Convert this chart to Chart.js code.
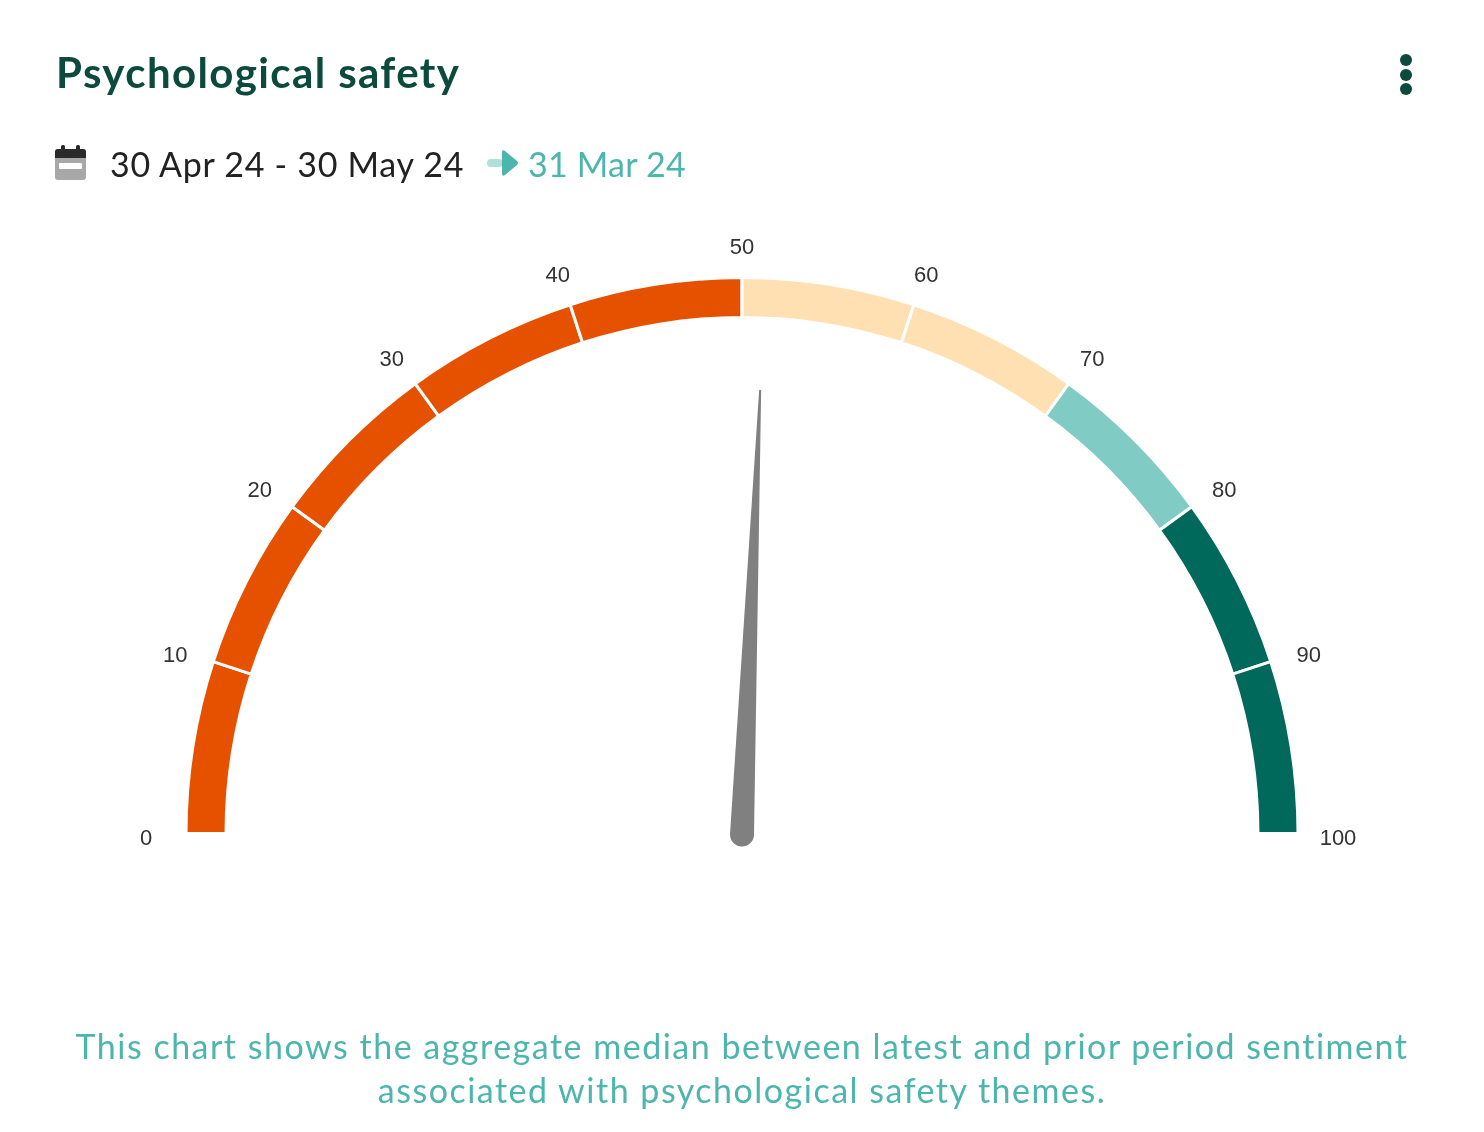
<!DOCTYPE html>
<html>
<head>
<meta charset="utf-8">
<script src="https://cdn.jsdelivr.net/npm/chart.js@4.4.1/dist/chart.umd.min.js"></script>
<style>
  html, body { margin: 0; padding: 0; background: #fff; }
  body { width: 1484px; height: 1132px; position: relative; overflow: hidden; font-family: Lato, "Open Sans", sans-serif; }
  #wrap { position: absolute; left: 0; top: 0; width: 1484px; height: 1132px; }
  .title { position: absolute; left: 56px; top: 47px; font-size: 42px; font-weight: 700; color: #0b4a3c; letter-spacing: 1.4px; }
  .dots { position: absolute; left: 1400px; top: 54px; }
  .dots span { display: block; width: 12px; height: 12px; border-radius: 6px; background: #0b4a3c; margin-bottom: 2.5px; }
  .dates { position: absolute; left: 54px; top: 140px; height: 46px; display: flex; align-items: center; font-size: 34px; color: #222; letter-spacing: 0.7px; }
  .dates .prior { color: #4db6ac; letter-spacing: 0.2px; }
  .note { position: absolute; left: 0; width: 1484px; top: 1024px; text-align: center; font-size: 34px; line-height: 44px; color: #4db6ac; letter-spacing: 1.5px; }
</style>
</head>
<body>
<div id="wrap"><canvas id="chart"></canvas></div>
<div class="title">Psychological safety</div>
<div class="dots"><span></span><span></span><span></span></div>
<div class="dates">
  <svg width="33" height="36" viewBox="0 0 33 36" style="margin-right:23px">
    <rect x="1" y="4" width="31" height="31" rx="3" fill="#a8a8a8"/>
    <path d="M1 7 a3 3 0 0 1 3 -3 h25 a3 3 0 0 1 3 3 v6 h-31 z" fill="#2a2a2a"/>
    <rect x="7" y="0" width="4" height="8" rx="1.5" fill="#2a2a2a"/>
    <rect x="22" y="0" width="4" height="8" rx="1.5" fill="#2a2a2a"/>
    <rect x="5" y="18" width="23" height="6" rx="1" fill="#fff"/>
  </svg>
  <span>30 Apr 24 - 30 May 24</span>
  <svg width="32" height="28" viewBox="0 0 32 28" style="margin:0 9px 0 23px">
    <rect x="0" y="10" width="16" height="8" rx="4" fill="#b2dfdb"/>
    <path d="M15 3 q0 -3 3 -1 l12 10 q2 2 0 4 l-12 10 q-3 2 -3 -1 z" fill="#4db6ac"/>
  </svg>
  <span class="prior">31 Mar 24</span>
</div>
<div class="note">This chart shows the aggregate median between latest and prior period sentiment<br>associated with psychological safety themes.</div>
<script>
"use strict";

const segmentValues = [10, 10, 10, 10, 10, 10, 10, 10, 10, 10];
const segmentColors = ["#e65100", "#e65100", "#e65100", "#e65100", "#e65100",
                       "#ffe0b2", "#ffe0b2", "#80cbc4", "#00695c", "#00695c"];
const tickLabels = ["0", "10", "20", "30", "40", "50", "60", "70", "80", "90", "100"];
const needleValue = 51.3;
const gaugeMax = 100;

const gaugeOverlay = {
  id: 'gaugeOverlay',
  afterDatasetsDraw(chart) {
    const arc = chart.getDatasetMeta(0).data[0];
    if (!arc) return;
    const {x, y, outerRadius} = arc.getProps(['x', 'y', 'outerRadius'], true);
    const ctx = chart.ctx;

    // tick labels round the arc
    ctx.save();
    ctx.font = '22px "Liberation Sans", Arial, sans-serif';
    ctx.fillStyle = '#333';
    ctx.textAlign = 'center';
    ctx.textBaseline = 'middle';
    const lr = outerRadius + 40;
    tickLabels.forEach((t, i) => {
      const a = Math.PI + Math.PI * (i * 10) / gaugeMax;
      ctx.fillText(t, x + Math.cos(a) * lr, y + Math.sin(a) * (lr - 5) + 5);
    });
    ctx.restore();

    // needle
    const a = Math.PI + Math.PI * needleValue / gaugeMax;
    const len = outerRadius * 0.8;
    const base = 12;
    ctx.save();
    ctx.translate(x, y + 1);
    ctx.rotate(a);
    ctx.fillStyle = '#808080';
    ctx.beginPath();
    ctx.moveTo(0, -base);
    ctx.lineTo(len, -1);
    ctx.lineTo(len, 1);
    ctx.lineTo(0, base);
    ctx.arc(0, 0, base, Math.PI / 2, Math.PI * 1.5);
    ctx.closePath();
    ctx.fill();
    ctx.restore();
  }
};

new Chart(document.getElementById('chart').getContext('2d'), {
  type: 'doughnut',
  data: {
    labels: segmentValues.map((v, i) => tickLabels[i] + '-' + tickLabels[i + 1]),
    datasets: [{
      data: segmentValues,
      backgroundColor: segmentColors,
      borderColor: '#fff',
      borderWidth: 3,
      hoverOffset: 0,
    }],
  },
  options: {
    responsive: true,
    maintainAspectRatio: false,
    animation: false,
    rotation: -90,
    circumference: 180,
    radius: 556,
    cutout: '92.8%',
    layout: {
      padding: {top: 278, bottom: 299, left: 186, right: 186},
    },
    plugins: {
      legend: {display: false},
      tooltip: {enabled: false},
    },
  },
  plugins: [gaugeOverlay],
});
</script>
</body>
</html>
